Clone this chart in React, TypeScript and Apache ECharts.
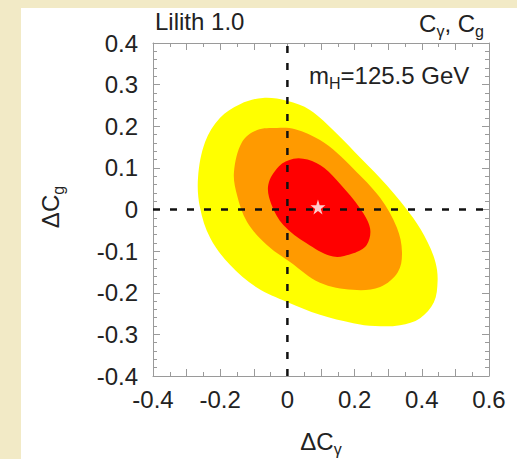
import React, { useEffect, useRef } from "react";
import * as echarts from "echarts";

// Axis ranges
const xMin = -0.4;
const xMax = 0.6;
const yMin = -0.4;
const yMax = 0.4;

// Contour boundaries: [ΔCγ, ΔCg]
const yellowContour: number[][] = [
  [-0.245, 0.162], [-0.201, 0.22], [-0.141, 0.253], [-0.073, 0.268], [-0.001, 0.261],
  [0.067, 0.239], [0.145, 0.184], [0.22, 0.122], [0.297, 0.057],
  [0.374, -0.02], [0.417, -0.078], [0.441, -0.128], [0.447, -0.172], [0.436, -0.223],
  [0.395, -0.261], [0.335, -0.278], [0.261, -0.28], [0.196, -0.273], [0.097, -0.253],
  [-0.001, -0.222], [-0.09, -0.188], [-0.171, -0.133], [-0.23, -0.068], [-0.26, 0.004],
  [-0.266, 0.076],
];
const orangeContour: number[][] = [
  [-0.135, 0.162], [-0.09, 0.191], [-0.031, 0.196], [0.023, 0.193], [0.097, 0.167],
  [0.148, 0.136], [0.195, 0.099], [0.276, 0.028], [0.326, -0.044], [0.341, -0.102],
  [0.329, -0.15], [0.276, -0.186], [0.195, -0.193], [0.097, -0.176], [0.008, -0.126],
  [-0.061, -0.085], [-0.12, -0.03], [-0.15, 0.035], [-0.159, 0.09],
];
const redContour: number[][] = [
  [-0.025, 0.104], [0.018, 0.122], [0.06, 0.12], [0.11, 0.1], [0.157, 0.061], [0.216, 0.003],
  [0.246, -0.045], [0.236, -0.085], [0.196, -0.105], [0.136, -0.113], [0.057, -0.081],
  [-0.012, -0.037], [-0.047, 0.011], [-0.057, 0.059],
];
const bestFit: number[][] = [[0.091, 0.006]];
const verticalRef: number[][] = [[0, yMin], [0, yMax]];
const horizontalRef: number[][] = [[xMin, 0], [xMax, 0]];

const FONT = "'Liberation Sans', Arial, Helvetica, sans-serif";
const TXT = "#222";
const FRAME = "#9a9a9a";

const contourSeries = (pts: number[][], color: string, z: number) => ({
  type: "custom",
  coordinateSystem: "cartesian2d",
  z,
  silent: true,
  data: [0],
  renderItem: (_p: any, api: any) => ({
    type: "polygon",
    shape: { points: pts.map((p) => api.coord(p)), smooth: 0.35 },
    style: { fill: color, stroke: null },
  }),
});

const axisCommon = (showLabel: boolean, minorSplit: number, isX: boolean) => ({
  type: "value",
  axisLine: { show: true, onZero: false, lineStyle: { color: FRAME, width: 1 } },
  axisTick: { show: true, inside: true, length: 7, lineStyle: { color: FRAME, width: 1 } },
  minorTick: { show: true, splitNumber: minorSplit, length: 4, lineStyle: { color: FRAME, width: 1 } },
  splitLine: { show: false },
  axisLabel: {
    show: showLabel,
    fontSize: 24,
    fontFamily: FONT,
    color: TXT,
    margin: isX ? 11 : 15,
    formatter: (v: number) => {
      const k = Math.round(v * 10);
      if (isX && k % 2 !== 0) return "";
      return k === 0 ? "0" : String(k / 10);
    },
  },
});

export default function App() {
  const ref = useRef<HTMLDivElement>(null);
  useEffect(() => {
    document.body.style.margin = "0";
    if (!ref.current) return;
    const chart = echarts.init(ref.current, null, { renderer: "svg" });
    const sub = { fontSize: 16, fontFamily: FONT, fill: TXT, verticalAlign: "bottom", lineHeight: 32 };
    const main = { fontSize: 24, fontFamily: FONT, fill: TXT, lineHeight: 32 };
    chart.setOption({
      animation: false,
      backgroundColor: "#f2eac6",
      grid: { left: 153, top: 43, width: 336, height: 333 },
      xAxis: [
        { ...axisCommon(true, 2, true), min: xMin, max: xMax, interval: 0.1, position: "bottom" },
        { ...axisCommon(false, 2, true), min: xMin, max: xMax, interval: 0.1, position: "top" },
      ],
      yAxis: [
        { ...axisCommon(true, 5, false), min: yMin, max: yMax, interval: 0.1, position: "left" },
        { ...axisCommon(false, 5, false), min: yMin, max: yMax, interval: 0.1, position: "right" },
      ],
      series: [
        contourSeries(yellowContour, "#ffff00", 2),
        contourSeries(orangeContour, "#ff9a00", 3),
        contourSeries(redContour, "#ff0000", 4),
        {
          type: "line", data: verticalRef, symbol: "none", z: 5, silent: true,
          lineStyle: { color: "#111", width: 2.5, type: [7, 10] },
        },
        {
          type: "line", data: horizontalRef, symbol: "none", z: 5, silent: true,
          lineStyle: { color: "#111", width: 2.5, type: [7, 10] },
        },
        {
          type: "scatter", data: bestFit, z: 6, silent: true,
          symbol: "path://M50,0 L61,35 L98,35 L68,57 L79,91 L50,70 L21,91 L32,57 L2,35 L39,35 Z",
          symbolSize: 15,
          itemStyle: { color: "#ffffff" },
        },
      ],
      graphic: [
        { type: "rect", z: -10, shape: { x: 21, y: 8, width: 496, height: 451 }, style: { fill: "#ffffff" } },
        {
          type: "text", z: 100, x: 155, y: 21,
          style: { text: "Lilith 1.0", fontSize: 24, fontFamily: FONT, fill: TXT, align: "left", verticalAlign: "middle" },
        },
        {
          type: "text", z: 100, x: 484, y: 23,
          style: {
            text: "{m|C}{s|γ}{m|, C}{s|g}", align: "right", verticalAlign: "middle",
            rich: { m: main, s: sub },
          },
        },
        {
          type: "text", z: 100, x: 309, y: 75,
          style: {
            text: "{m|m}{s|H}{m|=125.5 GeV}", align: "left", verticalAlign: "middle",
            rich: { m: main, s: sub },
          },
        },
        {
          type: "text", z: 100, x: 321, y: 441,
          style: {
            text: "{m|ΔC}{s|γ}", align: "center", verticalAlign: "middle",
            rich: { m: main, s: sub },
          },
        },
        {
          type: "text", z: 100, x: 50, y: 207, rotation: Math.PI / 2,
          style: {
            text: "{m|ΔC}{s|g}", align: "center", verticalAlign: "middle",
            rich: { m: main, s: sub },
          },
        },
      ],
    });
    return () => chart.dispose();
  }, []);
  return <div ref={ref} style={{ width: 517, height: 459 }} />;
}
